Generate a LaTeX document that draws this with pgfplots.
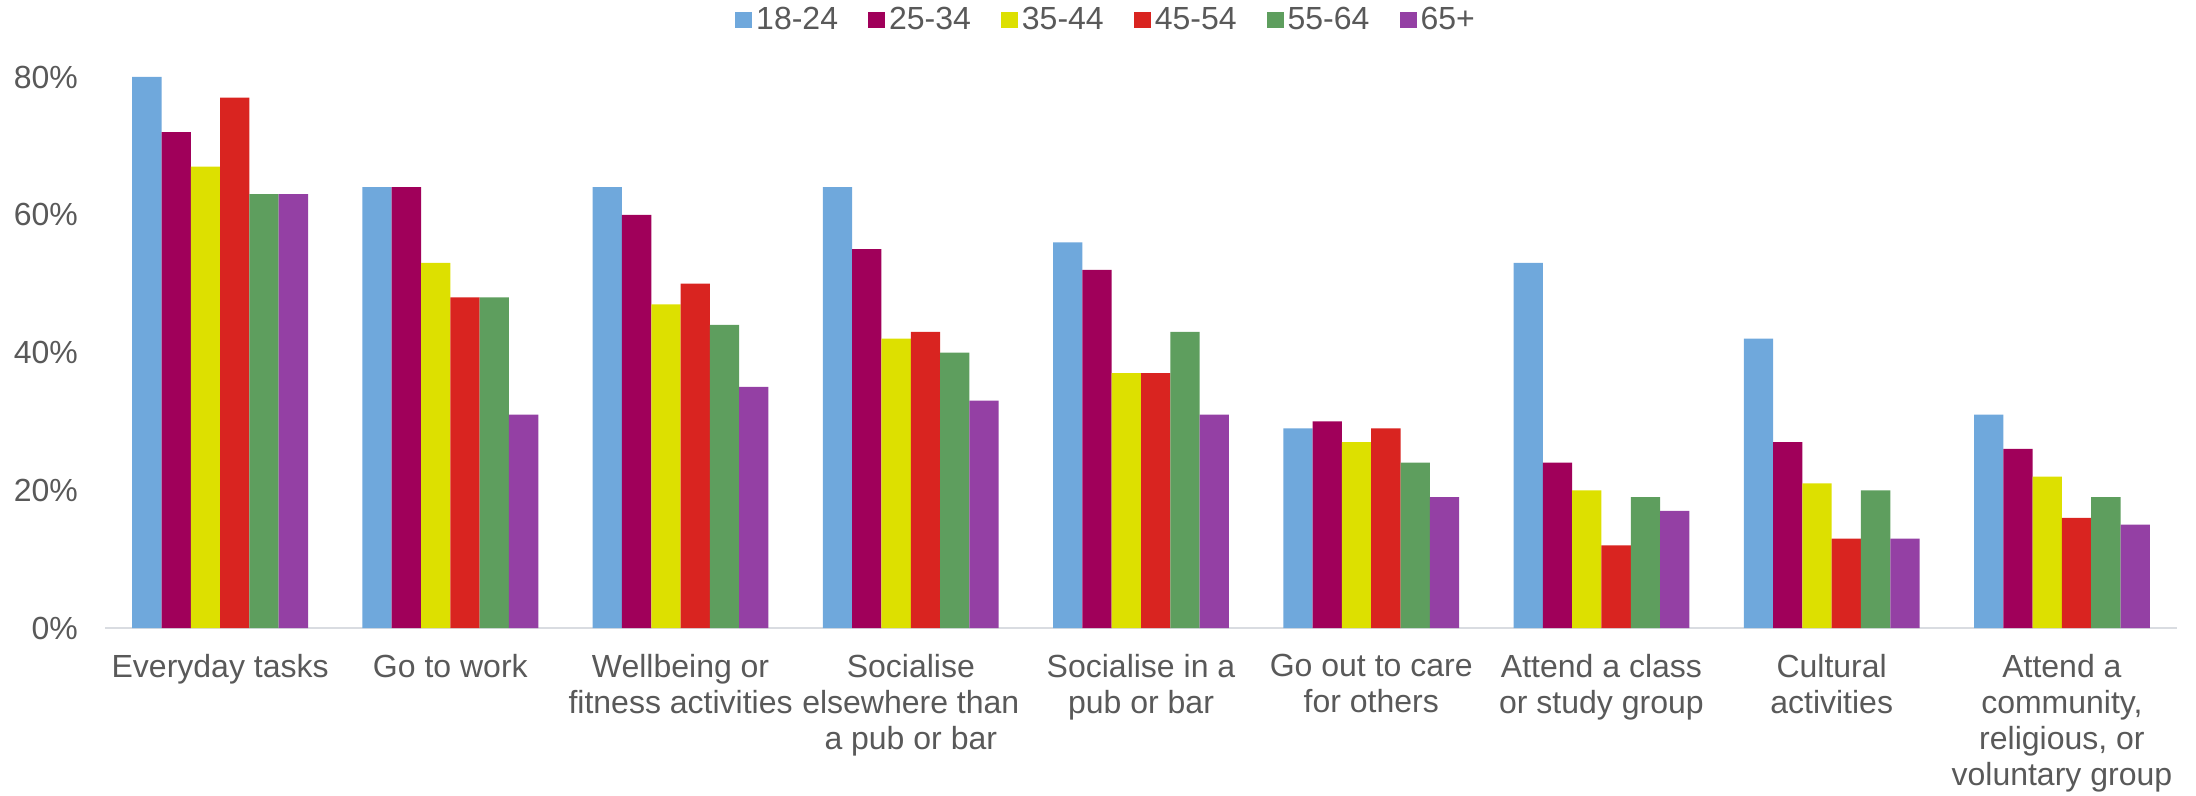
\documentclass[border=0pt]{standalone}
\usepackage{pgfplots}
\pgfplotsset{compat=1.18}
\usepackage{fontspec}
\setmainfont{Liberation Sans}

\definecolor{cA}{HTML}{6FA8DC}
\definecolor{cB}{HTML}{A0005A}
\definecolor{cC}{HTML}{DDE000}
\definecolor{cD}{HTML}{D92420}
\definecolor{cE}{HTML}{5E9E5E}
\definecolor{cF}{HTML}{9440A4}
\definecolor{txt}{HTML}{595959}
\definecolor{axisline}{HTML}{D9DCE1}

\begin{document}
\begin{tikzpicture}
\begin{axis}[
  scale only axis,
  width=1036pt, height=275.5pt,
  ybar=0pt, bar width=14.65pt,
  ymin=0, ymax=80,
  xmin=-0.5, xmax=8.5,
  ytick={0,20,40,60,80},
  yticklabel={\pgfmathprintnumber{\tick}\%},
  /pgf/number format/assume math mode=true,
  xtick={0,...,8},
  xticklabels={Everyday tasks, Go to work, {Wellbeing or\\fitness activities},
    {Socialise\\elsewhere than\\a pub or bar}, {Socialise in a\\pub or bar},
    {Go out to care\\for others}, {Attend a class\\or study group},
    {Cultural\\activities}, {Attend a\\community,\\religious, or\\voluntary group}},
  xticklabel style={align=center, font=\fontsize{16}{18}\selectfont, text=txt,
    inner sep=0pt, yshift=-13pt},
  yticklabel style={font=\fontsize{16}{19}\selectfont, text=txt, xshift=-10pt},
  major tick length=0pt,
  axis x line*=bottom,
  axis y line*=left,
  x axis line style={draw=axisline, line width=1pt},
  y axis line style={draw=none},
  legend columns=6,
  legend style={at={(0.5,1)}, anchor=center, xshift=-17pt, yshift=28.5pt,
    draw=none, font=\fontsize{16}{19}\selectfont, text=txt,
    /tikz/every even column/.append style={column sep=13pt},
    inner sep=0pt},
  legend image code/.code={\fill[#1] (0pt,-4.2pt) rectangle (8.5pt,4.2pt);},
  clip=false,
]
\addplot[fill=cA, draw=none] coordinates {(0,80) (1,64) (2,64) (3,64) (4,56) (5,29) (6,53) (7,42) (8,31)};
\addplot[fill=cB, draw=none] coordinates {(0,72) (1,64) (2,60) (3,55) (4,52) (5,30) (6,24) (7,27) (8,26)};
\addplot[fill=cC, draw=none] coordinates {(0,67) (1,53) (2,47) (3,42) (4,37) (5,27) (6,20) (7,21) (8,22)};
\addplot[fill=cD, draw=none] coordinates {(0,77) (1,48) (2,50) (3,43) (4,37) (5,29) (6,12) (7,13) (8,16)};
\addplot[fill=cE, draw=none] coordinates {(0,63) (1,48) (2,44) (3,40) (4,43) (5,24) (6,19) (7,20) (8,19)};
\addplot[fill=cF, draw=none] coordinates {(0,63) (1,31) (2,35) (3,33) (4,31) (5,19) (6,17) (7,13) (8,15)};
\legend{18-24,25-34,35-44,45-54,55-64,65+}
\end{axis}
% page frame around the axis
\path (current axis.south west) ++(-52.5pt,-83.5pt) coordinate (bbA);
\path (current axis.north east) ++(9.5pt,38.5pt) coordinate (bbB);
\useasboundingbox (bbA) rectangle (bbB);
\end{tikzpicture}
\end{document}
